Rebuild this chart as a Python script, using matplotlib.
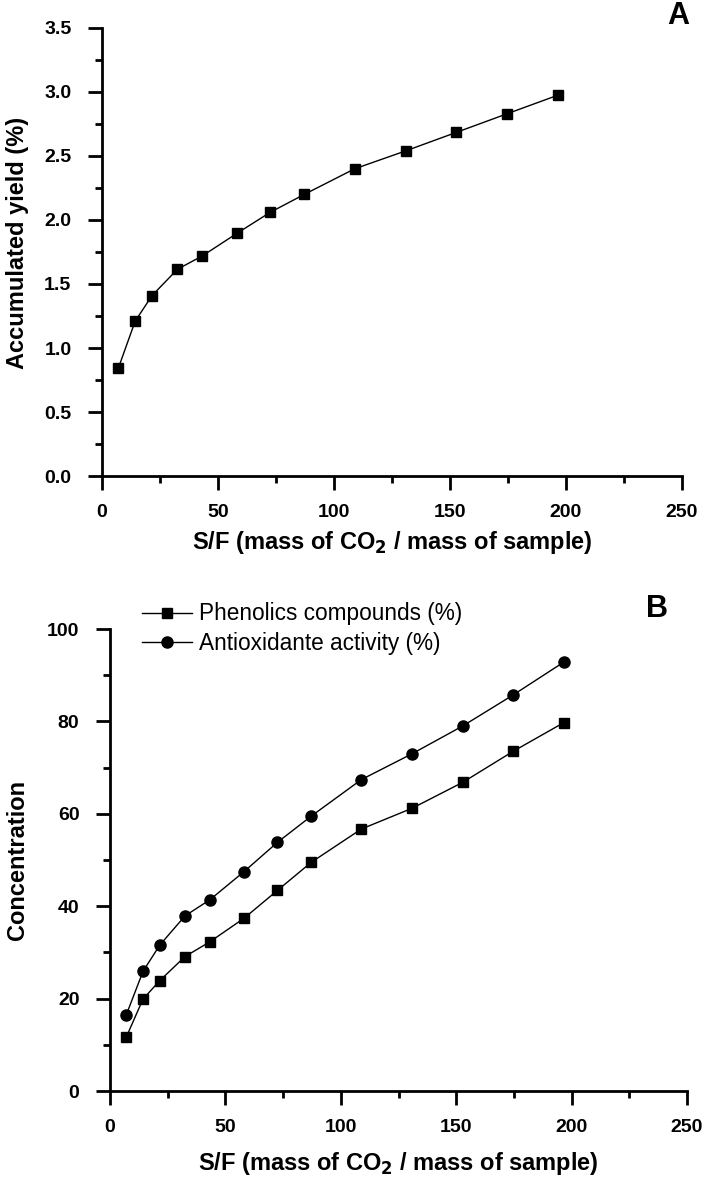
import matplotlib
matplotlib.use('Agg')
import matplotlib.pyplot as plt
from matplotlib.ticker import MultipleLocator, FormatStrFormatter

plt.rcParams['font.family'] = ['Liberation Sans', 'DejaVu Sans']

# S/F values (mass of CO2 / mass of sample)
sf = [7.0, 14.3, 21.6, 32.5, 43.3, 58.1, 72.5, 87.2, 108.9, 130.9, 152.8, 174.6, 196.5]

# panel A
accum_yield = [0.84, 1.21, 1.41, 1.615, 1.72, 1.895, 2.06, 2.20, 2.40, 2.54, 2.685, 2.83, 2.975]

# panel B
phenolics = [11.6, 19.9, 23.9, 29.1, 32.3, 37.4, 43.4, 49.5, 56.7, 61.2, 66.8, 73.5, 79.7]
antioxidant = [16.4, 25.9, 31.6, 37.9, 41.4, 47.5, 53.8, 59.5, 67.4, 73.0, 79.0, 85.7, 92.8]

W, H = 705, 1179
fig = plt.figure(figsize=(W / 100, H / 100), dpi=100)

def px_axes(x0, y0, x1, y1):
    return fig.add_axes([x0 / W, 1 - y1 / H, (x1 - x0) / W, (y1 - y0) / H])

def style(ax):
    for s in ['top', 'right']:
        ax.spines[s].set_visible(False)
    for s in ['left', 'bottom']:
        ax.spines[s].set_linewidth(2)
    ax.tick_params(which='major', direction='out', length=10, width=2, labelsize=14)
    ax.tick_params(axis='y', which='major', pad=12)
    ax.tick_params(axis='x', which='major', pad=10)
    ax.tick_params(which='minor', direction='out', length=5, width=2)
    for lab in ax.get_xticklabels() + ax.get_yticklabels():
        lab.set_fontweight('bold')

xlabel = 'S/F (mass of CO$_\\mathbf{2}$ / mass of sample)'

# ---- A ----
ax1 = px_axes(102, 28, 682, 476)
ax1.plot(sf, accum_yield, color='black', lw=1, marker='s', ms=7.5)
ax1.set_xlim(0, 250)
ax1.set_ylim(0, 3.5)
ax1.xaxis.set_major_locator(MultipleLocator(50))
ax1.xaxis.set_minor_locator(MultipleLocator(25))
ax1.yaxis.set_major_locator(MultipleLocator(0.5))
ax1.yaxis.set_minor_locator(MultipleLocator(0.25))
ax1.yaxis.set_major_formatter(FormatStrFormatter('%.1f'))
style(ax1)
ax1.set_xlabel(xlabel, fontsize=17, fontweight='bold')
ax1.xaxis.set_label_coords(0.5, -0.118)
ax1.set_ylabel('Accumulated yield (%)', fontsize=17, fontweight='bold')
ax1.yaxis.set_label_coords(-0.125, 0.52)
fig.text(678 / W, 1 - 16 / H, 'A', fontsize=22, fontweight='bold', ha='center', va='center')

# ---- B ----
ax2 = px_axes(110, 629, 687, 1091)
ax2.plot(sf, phenolics, color='black', lw=1, marker='s', ms=7.5, label='Phenolics compounds (%)')
ax2.plot(sf, antioxidant, color='black', lw=1, marker='o', ms=8, label='Antioxidante activity (%)')
ax2.set_xlim(0, 250)
ax2.set_ylim(0, 100)
ax2.xaxis.set_major_locator(MultipleLocator(50))
ax2.xaxis.set_minor_locator(MultipleLocator(25))
ax2.yaxis.set_major_locator(MultipleLocator(20))
ax2.yaxis.set_minor_locator(MultipleLocator(10))
style(ax2)
ax2.set_xlabel(xlabel, fontsize=17, fontweight='bold')
ax2.xaxis.set_label_coords(0.5, -0.128)
ax2.set_ylabel('Concentration', fontsize=17, fontweight='bold')
ax2.yaxis.set_label_coords(-0.14, 0.5)
leg = ax2.legend(loc='upper left', bbox_to_anchor=(0.04, 1.077), frameon=False,
                 fontsize=16.3, handlelength=2.2, handletextpad=0.3, labelspacing=0.27,
                 borderaxespad=0)
fig.text(657 / W, 1 - 609 / H, 'B', fontsize=22, fontweight='bold', ha='center', va='center')

fig.savefig('out.png', dpi=100)
